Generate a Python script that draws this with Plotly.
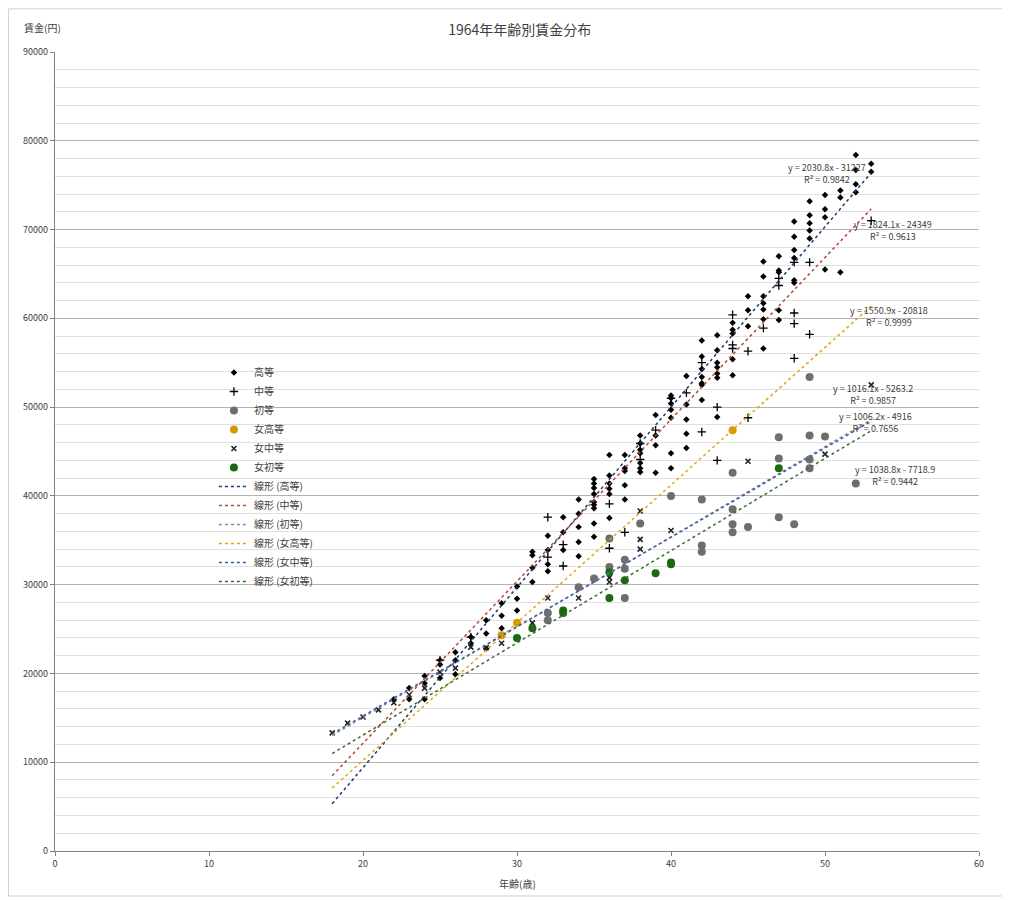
import numpy as np
import plotly.graph_objects as go

# ---------------- data ----------------
high_age = [22, 23, 23, 24, 24, 24, 25, 25, 25, 26, 26, 26, 27, 27,
            28, 28, 28, 29, 29, 29, 30, 30, 30, 31, 31, 31, 31,
            32, 32, 32, 32, 33, 33, 33, 34, 34, 34, 34, 34,
            35, 35, 35, 35, 35, 35, 35, 35, 35,
            36, 36, 36, 36, 36, 36, 37, 37, 37, 37, 37,
            38, 38, 38, 38, 38, 38, 38, 39, 39, 39, 39,
            40, 40, 40, 40, 40, 40, 40, 41, 41, 41, 41, 41,
            42, 42, 42, 42, 42, 42, 42, 43, 43, 43, 43, 43, 43, 43,
            44, 44, 44, 44, 44, 45, 45, 45,
            46, 46, 46, 46, 46, 46, 46, 47, 47, 47, 47, 47,
            48, 48, 48, 48, 48, 48, 49, 49, 49, 49, 49,
            50, 50, 50, 50, 51, 51, 51, 52, 52, 52, 52, 53, 53]
high_wage = [17100, 18350, 17100, 19700, 18900, 17100, 21500, 21000, 19500, 22400, 21500, 19900, 24100, 23400,
             26000, 24500, 22800, 27900, 26500, 25100, 29800, 28400, 27100, 33700, 33300, 31900, 30300,
             35500, 33900, 32300, 31500, 37600, 35900, 33900, 39600, 38000, 36500, 34800, 33200,
             41900, 41400, 40900, 40200, 39300, 39000, 38600, 36900, 35400,
             44600, 42300, 41400, 40800, 40200, 37500, 44600, 43100, 42800, 41200, 39600,
             46800, 45900, 45200, 44800, 43700, 43100, 42700, 49100, 46800, 45700, 42600,
             51300, 51000, 50400, 49700, 48800, 44800, 43100, 53500, 50300, 48600, 47000, 45400,
             57500, 55700, 54300, 53400, 52700, 52500, 50800, 58100, 56400, 55000, 54500, 53800, 53300, 48900,
             59500, 58700, 58300, 55400, 53600, 62500, 60900, 59100,
             66400, 64700, 62500, 61700, 61000, 59900, 56600, 67000, 65400, 65200, 60900, 59800,
             70900, 69200, 67700, 66800, 64300, 64000, 73200, 71600, 70700, 69900, 69000,
             73900, 72300, 71400, 65500, 74400, 73600, 65200, 78400, 76700, 75100, 74200, 77400, 76500]

mid_age = [25, 27, 32, 32, 33, 33, 36, 36, 37, 38, 38, 39, 40, 41, 42, 42, 43, 43,
           44, 44, 44, 45, 45, 46, 47, 47, 48, 48, 48, 48, 49, 49, 53]
mid_wage = [21500, 24100, 37600, 33100, 34500, 32100, 39100, 34100, 35900, 44100, 45900, 47400, 51000,
            51600, 55000, 47200, 50000, 44000, 60400, 57000, 56600, 56300, 48800, 58900, 64500, 63700,
            66300, 60600, 59400, 55500, 66300, 58200, 71000]

low_age = [32, 32, 34, 35, 36, 36, 37, 37, 37, 38, 40, 42, 42, 42, 44, 44, 44, 44,
           45, 47, 47, 47, 48, 49, 49, 49, 49, 50, 52]
low_wage = [26800, 26000, 29700, 30700, 35200, 32000, 32800, 31800, 28500, 36900, 40000, 39600, 34400,
            33700, 42600, 38500, 36800, 35900, 36500, 46600, 44200, 37600, 36800, 53400, 46800, 44100,
            43100, 46700, 41400]

f_high_age = [29, 30, 44]
f_high_wage = [24300, 25700, 47400]

f_mid_age = [18, 19, 20, 21, 22, 23, 24, 25, 26, 27, 28, 29, 31, 32, 34, 36, 36, 38, 38, 38,
             40, 45, 50, 53]
f_mid_wage = [13300, 14400, 15100, 15900, 16700, 17600, 18350, 20150, 20600, 22970, 22900, 23400,
              25700, 28500, 28500, 30800, 30300, 38300, 35100, 34000, 36100, 43900, 44700, 52500]

f_low_age = [30, 31, 33, 33, 36, 36, 37, 39, 40, 40, 47]
f_low_wage = [24000, 25100, 27100, 26800, 31400, 28500, 30500, 31300, 32500, 32300, 43100]

series_names = ["高等", "中等", "初等", "女高等", "女中等", "女初等"]
trend_slope = [2030.8, 1824.1, 1016.1, 1550.9, 1006.2, 1038.8]
trend_intercept = [-31227, -24349, -5263.2, -20818, -4916, -7718.9]
trend_r2 = ["0.9842", "0.9613", "0.9857", "0.9999", "0.7656", "0.9442"]
trend_range = [18, 53]

x_ticks = [0, 10, 20, 30, 40, 50, 60]
y_ticks = list(range(0, 90001, 10000))

# ---------------- styling ----------------
FONT = "Noto Sans CJK JP"
marker_styles = [
    dict(symbol="diamond", size=5, color="#000000"),
    dict(symbol="cross-thin", size=6, color="#000000", line=dict(width=1.3, color="#000000")),
    dict(symbol="circle", size=8, color="#6e6e6e"),
    dict(symbol="circle", size=8, color="#d49a00"),
    dict(symbol="x-thin", size=5, color="#222222", line=dict(width=1.6, color="#222222")),
    dict(symbol="circle", size=8, color="#1b6a12"),
]
trend_colors = ["#1f3a6e", "#b4483a", "#8c8c8c", "#e0a416", "#3d5fa8", "#3e6b34"]

xs = [high_age, mid_age, low_age, f_high_age, f_mid_age, f_low_age]
ys = [high_wage, mid_wage, low_wage, f_high_wage, f_mid_wage, f_low_wage]

fig = go.Figure()
for name, x, y, ms in zip(series_names, xs, ys, marker_styles):
    fig.add_trace(go.Scatter(x=x, y=y, mode="markers", name=name, marker=ms))

tx = np.array(trend_range, dtype=float)
for name, a, b, c in zip(series_names, trend_slope, trend_intercept, trend_colors):
    fig.add_trace(go.Scatter(x=tx, y=a * tx + b, mode="lines", name=f"線形 ({name})",
                             line=dict(color=c, width=1.5, dash="dot"), hoverinfo="skip"))

# trendline equation labels
label_pos = [(50.1, 76300), (54.4, 69900), (53.1, 51460), (54.15, 60240), (53.25, 48300), (54.55, 42340)]
for (lx, ly), a, b, r2 in zip(label_pos, trend_slope, trend_intercept, trend_r2):
    sign = "-" if b < 0 else "+"
    txt = f"y = {a:g}x {sign} {abs(b):g}<br>R² = {r2}"
    fig.add_annotation(x=lx, y=ly, text=txt, showarrow=False, xref="x", yref="y",
                       xanchor="center", yanchor="middle",
                       font=dict(family=FONT, size=9, color="#404040"), align="center")

fig.add_annotation(text="賃金(円)", xref="paper", yref="paper", x=-0.014, y=1.031,
                   xanchor="center", yanchor="middle",
                   showarrow=False, font=dict(family=FONT, size=10, color="#404040"))
fig.add_annotation(text="年齢(歳)", xref="paper", yref="paper", x=0.5, y=-0.0413,
                   xanchor="center", yanchor="middle",
                   showarrow=False, font=dict(family=FONT, size=10, color="#404040"))

fig.add_shape(type="rect", xref="paper", yref="paper", x0=-0.0503, x1=1.028, y0=-0.0563, y1=1.054,
              line=dict(color="#d0d0d0", width=1), fillcolor="rgba(0,0,0,0)", layer="below")

fig.update_layout(
    width=1010, height=900,
    margin=dict(l=47, r=39, t=44, b=57),
    paper_bgcolor="white", plot_bgcolor="white",
    font=dict(family=FONT, size=10, color="#404040"),
    title=dict(text="1964年年齢別賃金分布", x=0.503, xref="paper", y=0.9756, yref="container",
               xanchor="center", yanchor="middle", font=dict(family=FONT, size=14, color="#404040")),
    showlegend=True,
    legend=dict(x=0.172, y=0.617, xanchor="left", yanchor="top", bgcolor="rgba(0,0,0,0)",
                font=dict(family=FONT, size=10, color="#404040"), traceorder="normal"),
    xaxis=dict(range=[0, 60], tickvals=x_ticks, showgrid=False, zeroline=False,
               showline=True, linecolor="#808080", linewidth=1.2,
               ticks="outside", ticklen=4, tickcolor="#808080",
               tickfont=dict(size=9, color="#404040"), automargin=False),
    yaxis=dict(range=[0, 90000], tickvals=y_ticks, tickformat="d",
               showgrid=True, gridcolor="#b3b3b3", gridwidth=1.2,
               zeroline=False, showline=True, linecolor="#808080", linewidth=1.2,
               ticks="outside", ticklen=4, tickcolor="#808080",
               tickfont=dict(size=9, color="#404040"), automargin=False,
               minor=dict(dtick=2000, showgrid=True, gridcolor="#e0e0e0", gridwidth=1)),
)

fig.write_html("out.html")
